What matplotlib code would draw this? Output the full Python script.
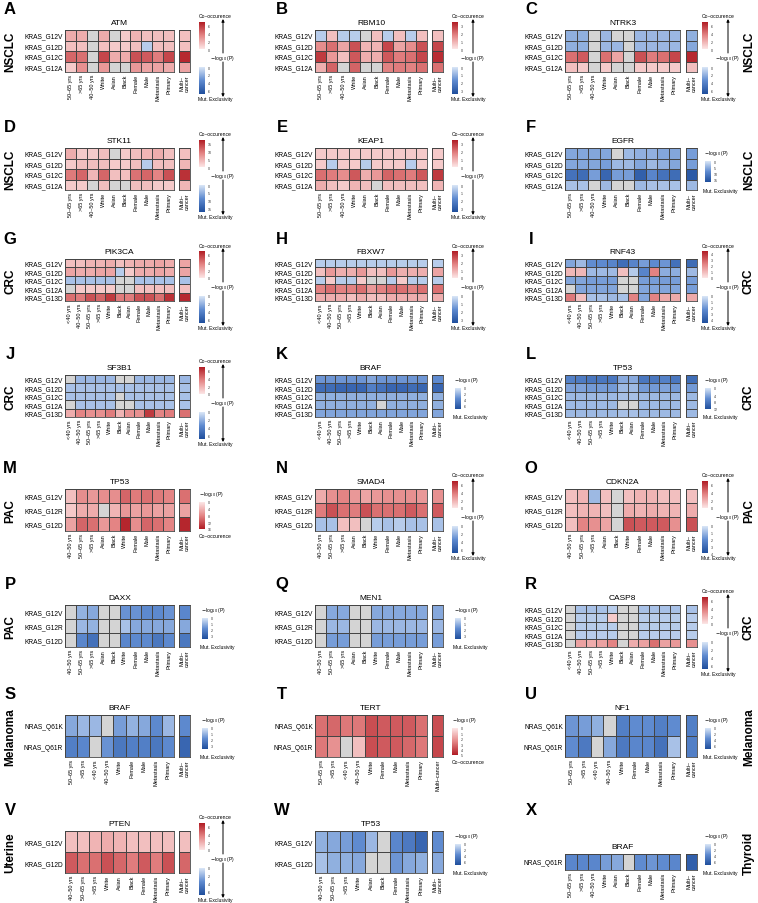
import numpy as np
import matplotlib
matplotlib.use("Agg")
import matplotlib.pyplot as plt
from matplotlib.colors import LinearSegmentedColormap, TwoSlopeNorm, Normalize
from matplotlib.cm import ScalarMappable

plt.rcParams['font.family'] = ['Liberation Sans', 'DejaVu Sans']

nan = np.nan

# ---- row / column labels per cancer type ----
NSCLC_ROWS = ["KRAS_G12V", "KRAS_G12D", "KRAS_G12C", "KRAS_G12A"]
NSCLC_COLS = ["50–65 yrs", ">65 yrs", "40–50 yrs", "White", "Asian", "Black",
              "Female", "Male", "Metastasis", "Primary"]
CRC_ROWS = ["KRAS_G12V", "KRAS_G12D", "KRAS_G12C", "KRAS_G12A", "KRAS_G13D"]
CRC_COLS = ["<40 yrs", "40–50 yrs", "50–65 yrs", ">65 yrs", "White", "Black", "Asian",
            "Female", "Male", "Metastasis", "Primary"]
PAC_ROWS = ["KRAS_G12V", "KRAS_G12R", "KRAS_G12D"]
PAC_COLS = ["40–50 yrs", "50–65 yrs", ">65 yrs", "Asian", "Black", "White",
            "Female", "Male", "Metastasis", "Primary"]
MEL_ROWS = ["NRAS_Q61K", "NRAS_Q61R"]
MEL_COLS = ["50–65 yrs", ">65 yrs", "<40 yrs", "40–50 yrs", "White",
            "Female", "Male", "Metastasis", "Primary"]
UT_ROWS = ["KRAS_G12V", "KRAS_G12D"]
UT_COLS = ["40–50 yrs", "50–65 yrs", ">65 yrs", "White", "Asian", "Black",
           "Female", "Metastasis", "Primary"]
THY_ROWS = ["NRAS_Q61R"]
THY_COLS = ["50–65 yrs", ">65 yrs", "40–50 yrs", "White", "Asian", "Black",
            "Female", "Male", "Metastasis", "Primary"]

# ---- signed -log10(P): + co-occurrence, - mutual exclusivity, nan = not tested ----
ATM_VALS = [[2.1, 2.1, nan, 2.1, nan, 1.0, 1.8, 1.4, 1.4, 1.4],
            [1.4, 1.4, nan, 1.4, 1.0, 1.0, 1.4, -1.0, 1.4, 1.4],
            [4.5, 4.2, nan, 5.6, 2.1, 2.1, 5.2, 4.9, 3.8, 5.6],
            [1.0, 3.1, nan, 2.8, nan, nan, 2.8, 2.4, 2.4, 2.1]]
ATM_MULTI = [1.4, 1.4, 6.6, 2.4]

RBM10_VALS = [[-0.5, 0.7, -0.5, -0.5, nan, 0.7, -0.5, 0.7, -0.5, 0.7],
              [1.6, 2.1, 1.2, 2.6, 0.9, 0.9, 2.8, 1.2, 1.6, 2.6],
              [3.0, 1.4, 0.7, 2.5, 1.0, 1.0, 2.5, 1.9, 2.1, 2.8],
              [1.0, 2.3, nan, 2.3, nan, nan, 1.8, 1.9, 1.8, 2.1]]
RBM10_MULTI = [0.7, 2.8, 3.2, 2.1]

NTRK3_VALS = [[-2.1, -2.1, nan, -1.8, nan, nan, -1.8, -1.8, -1.8, -1.8],
              [-2.1, -2.1, nan, -1.8, -1.8, nan, -1.8, -1.8, -1.8, -1.8],
              [4.2, 4.9, nan, 4.2, 2.4, nan, 5.2, 3.8, 4.2, 5.6],
              [1.4, 1.0, nan, 1.0, nan, nan, 1.0, 1.0, 1.0, 1.0]]
NTRK3_MULTI = [-2.1, -2.4, 6.6, 1.4]

STK11_VALS = [[5.0, 2.5, 2.5, 3.4, nan, 2.5, 3.4, 4.2, 5.0, 3.4],
              [2.5, 3.4, 3.4, 3.4, 2.5, 2.5, 3.4, -2.5, 3.4, 3.4],
              [9.3, 11.0, 4.2, 11.0, 3.4, 3.4, 10.0, 11.0, 8.5, 12.7],
              [2.5, 2.5, nan, 3.4, nan, nan, 3.4, 3.4, 2.5, 2.5]]
STK11_MULTI = [3.4, 4.2, 15.3, 4.2]

KEAP1_VALS = [[0.5, 0.5, 0.5, 0.5, 0.5, 0.5, 0.5, 0.5, 0.5, 0.5],
              [0.5, -0.5, 0.5, 0.5, -0.5, 0.5, 0.5, 0.5, -0.5, 0.5],
              [2.1, 1.9, 1.6, 2.5, 1.0, 1.4, 2.3, 2.1, 1.9, 2.5],
              [1.0, 0.7, 0.5, 0.9, 0.7, nan, 0.7, 0.7, 0.7, 0.7]]
KEAP1_MULTI = [0.5, 0.5, 3.0, 0.9]

EGFR_VALS = [[-6.0, -6.0, -6.0, -6.0, nan, -4.2, -5.0, -5.0, -6.0, -6.0],
             [-6.0, -6.0, -6.0, -6.8, -4.2, -4.2, -6.0, -4.2, -5.0, -6.0],
             [-12.0, -12.7, -6.8, -13.6, -6.8, -6.8, -14.5, -9.3, -12.0, -12.7],
             [-3.4, -3.4, nan, -4.2, nan, nan, -4.2, -3.4, -3.4, -3.4]]
EGFR_MULTI = [-6.8, -6.8, -15.3, -4.2]

PIK3CA_VALS = [[1.4, 1.4, 1.8, 1.8, 2.1, 1.4, 1.8, 2.1, 2.1, 2.4, 2.1],
               [2.4, 2.1, 2.1, 2.4, 2.4, -1.0, 1.0, 2.1, 2.1, 2.4, 2.1],
               [-1.4, -1.4, -1.4, -1.4, -1.4, nan, nan, -1.4, -1.4, -1.4, -1.4],
               [nan, 1.0, 1.0, 1.0, 1.0, nan, nan, 1.4, 1.4, 1.4, 1.4],
               [4.2, 3.8, 5.2, 4.5, 6.0, 3.8, 3.8, 5.2, 5.2, 4.2, 6.3]]
PIK3CA_MULTI = [2.4, 2.4, -1.4, 1.4, 6.6]

FBXW7_VALS = [[-0.5, -0.5, -0.5, -0.5, -0.5, -0.5, -0.5, -0.5, -0.5, -0.5, -0.5],
              [0.7, 1.4, 1.0, 1.0, 1.4, 0.7, 0.7, 1.4, 1.0, 1.0, 1.0],
              [-0.5, 0.5, -0.5, -0.5, 0.5, nan, nan, -0.5, 0.5, -0.5, -0.5],
              [1.8, 2.1, 1.8, 1.8, 2.1, 1.4, 1.8, 2.1, 2.1, 1.8, 2.1],
              [1.0, 1.0, 1.0, 0.7, 1.0, 0.7, 0.7, 1.0, 1.0, 1.0, 1.0]]
FBXW7_MULTI = [-0.5, 1.2, -0.5, 2.1, 1.0]

RNF43_VALS = [[-1.6, -1.1, -2.2, -2.3, -2.5, -3.3, -2.5, -1.8, -2.3, -2.0, -3.2],
              [1.1, 1.1, -1.1, -1.1, -1.1, 0.9, -0.7, -2.5, 2.3, -1.4, -1.4],
              [-1.6, -1.6, -1.8, -1.8, -1.8, nan, nan, -1.8, -1.8, -1.8, -1.8],
              [nan, -1.6, -1.6, -1.6, -1.6, nan, nan, -1.6, -1.6, -1.6, -1.6],
              [2.5, 0.9, -0.9, -0.9, -1.1, -0.9, 2.3, -1.6, 2.3, 1.4, 1.4]]
RNF43_MULTI = [-3.4, -1.1, -1.8, -1.8, 1.4]

SF3B1_VALS = [[nan, -1.8, -1.8, -1.8, -1.8, nan, nan, -1.8, -1.8, -1.8, -1.8],
              [-1.4, -1.4, -1.4, -1.4, -1.4, -1.4, -1.4, -1.4, -1.4, -1.4, -1.4],
              [-1.4, -1.4, -1.4, -1.4, -1.4, nan, -1.4, -1.4, -1.4, -1.4, -1.4],
              [nan, -1.4, -1.4, -1.4, -1.4, nan, nan, -1.4, -1.4, -1.4, -1.4],
              [2.1, 3.5, 3.1, 3.1, 3.8, 1.8, 3.1, 3.1, 6.0, 3.5, 3.8]]
SF3B1_MULTI = [-1.8, -1.4, -1.4, -1.4, 4.2]

BRAFC_VALS = [[-3.1, -3.1, -3.1, -3.1, -3.1, -2.5, -3.1, -3.1, -3.1, -3.1, -3.1],
              [-5.2, -5.2, -5.6, -5.6, -5.6, -4.2, -4.9, -5.6, -5.6, -5.2, -5.6],
              [-2.1, -2.1, -2.1, -2.1, -2.1, -2.1, -2.1, -2.1, -2.1, -2.1, -2.1],
              [-2.1, -2.1, -2.1, -2.1, -2.1, -2.1, nan, -2.1, -2.1, -2.1, -2.1],
              [-2.5, -2.5, -2.5, -2.5, -2.5, -2.5, -2.5, -2.5, -2.5, -2.5, -2.5]]
BRAFC_MULTI = [-3.5, -5.6, -2.1, -2.1, -2.5]

TP53C_VALS = [[-7.0, -7.5, -8.0, -8.0, -8.0, -4.0, -4.0, -8.0, -8.0, -7.0, -8.0],
              [-4.5, -4.5, -5.0, -5.0, -5.0, -3.0, -3.0, -5.0, -5.0, -4.5, -5.0],
              [-3.0, -3.0, -3.0, -3.0, -3.0, -2.5, -2.5, -3.0, -3.0, -3.0, -3.0],
              [-3.0, -3.0, -3.0, -3.0, -3.0, nan, nan, -3.0, -3.0, -3.0, -3.0],
              [-3.0, -3.0, -3.0, -3.0, -3.0, -2.5, -2.5, -3.0, -3.0, -3.0, -3.0]]
TP53C_MULTI = [-9.0, -5.0, -3.0, -3.0, -3.0]

TP53P_VALS = [[3.2, 7.2, 6.4, 7.2, 7.2, 10.4, 8.8, 9.6, 8.8, 8.0],
              [2.4, 4.8, 4.8, nan, 4.0, 6.4, 5.6, 6.4, 5.6, 5.6],
              [5.6, 10.4, 9.6, 6.4, 8.0, 15.2, 7.2, 10.4, 9.6, 8.0]]
TP53P_MULTI = [9.6, 5.6, 15.2]

SMAD4_VALS = [[2.1, 3.1, 3.5, 2.8, 2.4, 2.8, 3.1, 3.1, 3.1, 2.8],
              [3.8, 5.2, 4.2, 3.8, 5.2, 4.2, 4.2, 4.2, 4.9, 4.2],
              [-1.4, -1.4, 1.4, 1.4, nan, -1.0, -1.4, -1.0, -1.4, -1.4]]
SMAD4_MULTI = [3.1, 4.9, -1.4]

CDKN2A_VALS = [[1.4, 1.8, -1.0, 1.4, nan, 1.4, 1.8, 1.8, 1.4, 1.4],
               [1.4, 1.8, 1.8, 1.4, nan, 2.1, 1.8, 2.1, 1.8, 1.8],
               [1.4, 3.5, 3.1, 2.4, nan, 5.2, 4.9, 4.9, 4.9, 3.1]]
CDKN2A_MULTI = [1.4, 2.1, 5.2]

DAXX_VALS = [[nan, -1.0, -1.2, nan, nan, -1.6, -1.6, -1.8, -1.8, -1.6],
             [nan, -0.9, -1.0, nan, nan, -0.7, -1.2, -1.2, -1.2, -1.2],
             [nan, -1.9, -2.5, nan, nan, -1.9, -1.8, -1.8, -2.3, -1.8]]
DAXX_MULTI = [-1.9, -1.2, -2.3]

MEN1_VALS = [[nan, -1.2, -1.2, nan, nan, -1.2, -1.2, -1.2, -1.2, -1.2],
             [nan, -0.9, -0.9, nan, nan, -0.9, -0.9, -0.9, -0.9, -0.9],
             [nan, -1.4, -1.4, nan, nan, -1.4, -1.4, -1.4, -1.4, -1.4]]
MEN1_MULTI = [-1.2, -0.9, -1.4]

CASP8_VALS = [[nan, -1.4, -1.4, -1.4, -1.0, nan, nan, -1.4, -1.4, -1.4, -1.4],
              [nan, -1.0, -1.0, -1.0, 1.0, nan, nan, -1.0, -1.0, -1.0, -1.0],
              [nan, -1.0, -1.0, -1.0, -1.0, nan, nan, -1.0, -1.0, -1.0, -1.0],
              [nan, -1.0, -1.0, -1.0, -1.0, nan, nan, -1.0, -1.0, -1.0, -1.0],
              [nan, 2.5, 2.1, 2.5, 3.5, nan, 2.1, 2.5, 4.2, 2.5, 2.8]]
CASP8_MULTI = [-1.4, -1.0, -1.0, -1.0, 3.1]

BRAFM_VALS = [[-1.2, -0.9, -0.9, nan, -1.4, -1.0, -1.2, -1.8, -0.9],
              [-2.1, -1.9, nan, -1.6, -2.3, -2.1, -2.1, -2.3, -1.8]]
BRAFM_MULTI = [-1.8, -2.8]

TERT_VALS = [[3.0, 3.2, 2.8, 2.8, 3.8, 3.5, 3.5, 3.5, 3.0],
             [2.8, 2.2, nan, 1.0, 3.8, 3.5, 3.5, 3.2, 2.8]]
TERT_MULTI = [3.8, 4.0]

NF1_VALS = [[-3.1, -2.8, -2.1, nan, -4.2, -3.5, -3.5, -4.2, -3.5],
            [-3.5, -4.5, nan, -2.4, -4.5, -3.8, -3.8, -4.9, -1.4]]
NF1_MULTI = [-4.2, -4.2]

PTEN_VALS = [[1.4, 1.4, 1.8, 2.1, 1.8, 1.4, 1.4, 1.4, 1.4],
             [4.9, 4.2, 4.2, 5.2, 4.5, 3.8, 4.9, 3.8, 5.2]]
PTEN_MULTI = [1.4, 4.5]

TP53U_VALS = [[-2.1, -2.4, -2.8, -3.5, -1.8, nan, -3.8, -4.5, -5.6],
              [-1.4, -2.1, -2.1, -2.4, nan, nan, -3.1, -2.4, -2.1]]
TP53U_MULTI = [-3.5, -2.4]

BRAFT_VALS = [[-3.8, -3.8, -3.8, -2.8, -2.4, nan, -3.5, -3.1, -3.5, -3.8]]
BRAFT_MULTI = [-6.0]

# ---- layout (pixels) ----
W, H = 758, 904
ROW_TOP = [31, 149, 260, 376, 490, 606, 716, 832]
HM_H = 42
COL_GEOM = [
    dict(hm0=65, hm1=174, mu0=179, mu1=190, cb0=199, cb1=205, arr=223, letter=10),
    dict(hm0=315, hm1=427, mu0=432, mu1=443, cb0=452, cb1=458, arr=473, letter=282),
    dict(hm0=565, hm1=680, mu0=686, mu1=697, cb0=702, cb1=708, arr=728, letter=531),
]
SIDE_X = {"left": 10, "right": 749}

panels = [
    dict(letter="A", gene="ATM", pos=(0, 0), rows=NSCLC_ROWS, cols=NSCLC_COLS, vals=ATM_VALS, multi=ATM_MULTI,
         rmax=7, bmax=7, rt=[0, 2, 4, 6], bt=[0, 2, 4, 6], legend="both", side=("NSCLC", "left")),
    dict(letter="B", gene="RBM10", pos=(0, 1), rows=NSCLC_ROWS, cols=NSCLC_COLS, vals=RBM10_VALS, multi=RBM10_MULTI,
         rmax=3.5, bmax=3.5, rt=[0, 1, 2, 3], bt=[0, 1, 2, 3], legend="both"),
    dict(letter="C", gene="NTRK3", pos=(0, 2), rows=NSCLC_ROWS, cols=NSCLC_COLS, vals=NTRK3_VALS, multi=NTRK3_MULTI,
         rmax=7, bmax=7, rt=[0, 2, 4, 6], bt=[0, 2, 4, 6], legend="both", side=("NSCLC", "right")),
    dict(letter="D", gene="STK11", pos=(1, 0), rows=NSCLC_ROWS, cols=NSCLC_COLS, vals=STK11_VALS, multi=STK11_MULTI,
         rmax=17, bmax=17, rt=[0, 5, 10, 15], bt=[0, 5, 10, 15], legend="both", side=("NSCLC", "left")),
    dict(letter="E", gene="KEAP1", pos=(1, 1), rows=NSCLC_ROWS, cols=NSCLC_COLS, vals=KEAP1_VALS, multi=KEAP1_MULTI,
         rmax=3.5, bmax=3.5, rt=[0, 1, 2, 3], bt=[0, 1, 2, 3], legend="both"),
    dict(letter="F", gene="EGFR", pos=(1, 2), rows=NSCLC_ROWS, cols=NSCLC_COLS, vals=EGFR_VALS, multi=EGFR_MULTI,
         rmax=17, bmax=17, bt=[0, 5, 10, 15], legend="blue", side=("NSCLC", "right")),
    dict(letter="G", gene="PIK3CA", pos=(2, 0), rows=CRC_ROWS, cols=CRC_COLS, vals=PIK3CA_VALS, multi=PIK3CA_MULTI,
         rmax=7, bmax=7, rt=[0, 2, 4, 6], bt=[0, 2, 4, 6], legend="both", side=("CRC", "left")),
    dict(letter="H", gene="FBXW7", pos=(2, 1), rows=CRC_ROWS, cols=CRC_COLS, vals=FBXW7_VALS, multi=FBXW7_MULTI,
         rmax=3.5, bmax=3.5, rt=[0, 1, 2, 3], bt=[0, 1, 2, 3], legend="both"),
    dict(letter="I", gene="RNF43", pos=(2, 2), rows=CRC_ROWS, cols=CRC_COLS, vals=RNF43_VALS, multi=RNF43_MULTI,
         rmax=4.5, bmax=4.5, rt=[0, 1, 2, 3, 4], bt=[0, 1, 2, 3, 4], legend="both", side=("CRC", "right")),
    dict(letter="J", gene="SF3B1", pos=(3, 0), rows=CRC_ROWS, cols=CRC_COLS, vals=SF3B1_VALS, multi=SF3B1_MULTI,
         rmax=7, bmax=7, rt=[0, 2, 4, 6], bt=[0, 2, 4, 6], legend="both", side=("CRC", "left")),
    dict(letter="K", gene="BRAF", pos=(3, 1), rows=CRC_ROWS, cols=CRC_COLS, vals=BRAFC_VALS, multi=BRAFC_MULTI,
         rmax=7, bmax=7, bt=[0, 2, 4, 6], legend="blue"),
    dict(letter="L", gene="TP53", pos=(3, 2), rows=CRC_ROWS, cols=CRC_COLS, vals=TP53C_VALS, multi=TP53C_MULTI,
         rmax=12, bmax=12, bt=[0, 4, 8, 12], legend="blue", side=("CRC", "right")),
    dict(letter="M", gene="TP53", pos=(4, 0), rows=PAC_ROWS, cols=PAC_COLS, vals=TP53P_VALS, multi=TP53P_MULTI,
         rmax=16, bmax=16, rt=[0, 4, 8, 12, 16], legend="red", side=("PAC", "left")),
    dict(letter="N", gene="SMAD4", pos=(4, 1), rows=PAC_ROWS, cols=PAC_COLS, vals=SMAD4_VALS, multi=SMAD4_MULTI,
         rmax=7, bmax=7, rt=[0, 2, 4, 6], bt=[0, 2, 4, 6], legend="both"),
    dict(letter="O", gene="CDKN2A", pos=(4, 2), rows=PAC_ROWS, cols=PAC_COLS, vals=CDKN2A_VALS, multi=CDKN2A_MULTI,
         rmax=7, bmax=4, rt=[0, 2, 4, 6], bt=[0, 1, 2, 3, 4], legend="both", side=("PAC", "right")),
    dict(letter="P", gene="DAXX", pos=(5, 0), rows=PAC_ROWS, cols=PAC_COLS, vals=DAXX_VALS, multi=DAXX_MULTI,
         rmax=3.5, bmax=3.5, bt=[0, 1, 2, 3], legend="blue", side=("PAC", "left")),
    dict(letter="Q", gene="MEN1", pos=(5, 1), rows=PAC_ROWS, cols=PAC_COLS, vals=MEN1_VALS, multi=MEN1_MULTI,
         rmax=3.5, bmax=3.5, bt=[0, 1, 2, 3], legend="blue"),
    dict(letter="R", gene="CASP8", pos=(5, 2), rows=CRC_ROWS, cols=CRC_COLS, vals=CASP8_VALS, multi=CASP8_MULTI,
         rmax=7, bmax=7, rt=[0, 2, 4, 6], bt=[0, 2, 4, 6], legend="both", side=("CRC", "right")),
    dict(letter="S", gene="BRAF", pos=(6, 0), rows=MEL_ROWS, cols=MEL_COLS, vals=BRAFM_VALS, multi=BRAFM_MULTI,
         rmax=3.5, bmax=3.5, bt=[0, 1, 2, 3], legend="blue", side=("Melanoma", "left")),
    dict(letter="T", gene="TERT", pos=(6, 1), rows=MEL_ROWS, cols=MEL_COLS, vals=TERT_VALS, multi=TERT_MULTI,
         rmax=5, bmax=5, rt=[0, 1, 2, 3, 4, 5], legend="red", multi_label="Multi–cancer"),
    dict(letter="U", gene="NF1", pos=(6, 2), rows=MEL_ROWS, cols=MEL_COLS, vals=NF1_VALS, multi=NF1_MULTI,
         rmax=7, bmax=7, bt=[0, 2, 4, 6], legend="blue", side=("Melanoma", "right")),
    dict(letter="V", gene="PTEN", pos=(7, 0), rows=UT_ROWS, cols=UT_COLS, vals=PTEN_VALS, multi=PTEN_MULTI,
         rmax=7, bmax=7, rt=[0, 2, 4, 6], bt=[0, 2, 4, 6], legend="both", side=("Uterine", "left")),
    dict(letter="W", gene="TP53", pos=(7, 1), rows=UT_ROWS, cols=UT_COLS, vals=TP53U_VALS, multi=TP53U_MULTI,
         rmax=7, bmax=7, bt=[0, 2, 4, 6], legend="blue"),
    dict(letter="X", gene="BRAF", pos=(7, 2), rows=THY_ROWS, cols=THY_COLS, vals=BRAFT_VALS, multi=BRAFT_MULTI,
         rmax=7, bmax=7, bt=[0, 2, 4, 6], legend="blue", side=("Thyroid", "right"), hm=(23, 39)),
]

# ---- colours ----
BLUE_DARK, BLUE_MID, BLUE_LIGHT = "#1f4e9c", "#5f8bd0", "#dae6f6"
RED_LIGHT, RED_MID, RED_DARK = "#fce6e6", "#e48585", "#b01c24"
CMAP = LinearSegmentedColormap.from_list(
    "coexcl", [(0, BLUE_DARK), (0.25, BLUE_MID), (0.4999, BLUE_LIGHT),
               (0.5, RED_LIGHT), (0.75, RED_MID), (1, RED_DARK)], N=512)
CMAP.set_bad("#d4d4d4")
REDS = LinearSegmentedColormap.from_list("reds", [RED_LIGHT, RED_MID, RED_DARK])
BLUES = LinearSegmentedColormap.from_list("blues", [BLUE_LIGHT, BLUE_MID, BLUE_DARK])
EDGE = "#454545"

fig = plt.figure(figsize=(W / 100, H / 100), dpi=100)
lay = fig.add_axes([0, 0, 1, 1])
lay.set_xlim(0, W)
lay.set_ylim(H, 0)
lay.axis("off")


def px_axes(x0, y0, x1, y1):
    return fig.add_axes([x0 / W, 1 - y1 / H, (x1 - x0) / W, (y1 - y0) / H])


def heat(ax, data, norm):
    data = np.ma.masked_invalid(np.asarray(data, float))
    ax.pcolormesh(data, cmap=CMAP, norm=norm, edgecolors=EDGE, linewidth=0.45)
    ax.set_xlim(0, data.shape[1])
    ax.set_ylim(data.shape[0], 0)
    ax.tick_params(length=0, pad=1.5, labelsize=4)
    for s in ax.spines.values():
        s.set_color(EDGE)
        s.set_linewidth(0.6)


def colorbar(x0, y0, x1, y1, cmap, vmax, ticks, invert):
    cax = px_axes(x0, y0, x1, y1)
    cb = fig.colorbar(ScalarMappable(norm=Normalize(0, vmax), cmap=cmap), cax=cax, ticks=ticks)
    cb.outline.set_visible(False)
    cax.tick_params(labelsize=2.6, length=1.2, width=0.3, pad=0.8, color="white", labelcolor="#333333")
    if invert:
        cax.invert_yaxis()


def arrow(x, y_from, y_to):
    lay.annotate("", xy=(x, y_to), xytext=(x, y_from),
                 arrowprops=dict(arrowstyle="-|>", lw=0.7, color="black",
                                 mutation_scale=4, shrinkA=0, shrinkB=0))


LOGP = r"$-\mathregular{log}_{10}$ (P)"

for p in panels:
    r, c = p["pos"]
    g = COL_GEOM[c]
    t = ROW_TOP[r]
    top, bot = t, t + HM_H
    if "hm" in p:
        top, bot = t + p["hm"][0], t + p["hm"][1]
    norm = TwoSlopeNorm(vcenter=0, vmin=-p["bmax"], vmax=p["rmax"])

    ax = px_axes(g["hm0"], top, g["hm1"], bot)
    heat(ax, p["vals"], norm)
    ax.set_xticks(np.arange(len(p["cols"])) + 0.5, p["cols"], rotation=90)
    ax.set_yticks(np.arange(len(p["rows"])) + 0.5, p["rows"], fontsize=4.8)
    ax.set_title(p["gene"], fontsize=6, pad=4)

    axm = px_axes(g["mu0"], top, g["mu1"], bot)
    heat(axm, np.asarray(p["multi"], float).reshape(-1, 1), norm)
    axm.set_xticks([0.5], [p.get("multi_label", "Multi–\ncancer")], rotation=90, linespacing=1.0)
    axm.set_yticks([])

    # panel letter and cancer label
    lay.text(g["letter"], ROW_TOP[r] - 21, p["letter"], fontsize=12, fontweight="bold",
             ha="center", va="center")
    if "side" in p:
        lay.text(SIDE_X[p["side"][1]], t + HM_H / 2, p["side"][0], rotation=90, fontsize=8.5,
                 fontweight="bold", ha="center", va="center")

    # legend
    cb0, cb1 = g["cb0"], g["cb1"]
    if p["legend"] == "both":
        colorbar(cb0, t - 8, cb1, t + 19, REDS, p["rmax"], p["rt"], False)
        colorbar(cb0, t + 37, cb1, t + 64, BLUES, p["bmax"], p["bt"], True)
        lay.text(cb0 + 16, t - 14, "Co–occurence", fontsize=3.6, ha="center", va="center")
        lay.text(cb0 + 16, t + 69, "Mut. Exclusivity", fontsize=3.6, ha="center", va="center")
        lay.text(g["arr"], t + 27.5, LOGP, fontsize=3.6, ha="center", va="center")
        arrow(g["arr"], t + 23, t - 11)
        arrow(g["arr"], t + 32, t + 67)
    elif p["legend"] == "blue":
        colorbar(cb0 + 3, t + 13, cb1 + 3, t + 34, BLUES, p["bmax"], p["bt"], True)
        lay.text(cb0 + 2, t + 5, LOGP, fontsize=3.6, ha="left", va="center")
        lay.text(cb0 + 1, t + 42, "Mut. Exclusivity", fontsize=3.6, ha="left", va="center")
    else:
        colorbar(cb0, t + 13, cb1, t + 40, REDS, p["rmax"], p["rt"], True)
        lay.text(cb0, t + 5, LOGP, fontsize=3.6, ha="left", va="center")
        lay.text(cb0, t + 47, "Co–occurence", fontsize=3.6, ha="left", va="center")

fig.savefig("out.png", dpi=100)
